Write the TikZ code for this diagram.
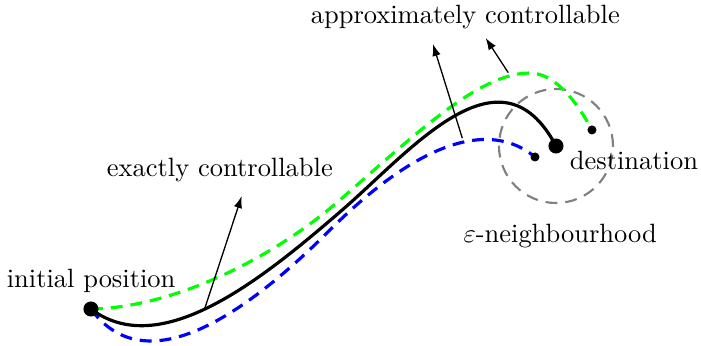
\documentclass[tikz,border=0pt]{standalone}
\usepackage{amsmath,amssymb}
\usepackage{xcolor}
\usepackage{tikz}
\usetikzlibrary{arrows.meta,calc,positioning}
\definecolor{exactblack}{HTML}{000000}
\definecolor{approxgreen}{HTML}{00FF00}
\definecolor{approxblue}{HTML}{0000FF}
\definecolor{ballgray}{HTML}{808080}
\tikzset{
  exactpath/.style={exactblack,line width=1.2pt},
  greenpath/.style={approxgreen,line width=1.2pt,dash pattern=on 4.5pt off 3pt},
  bluepath/.style={approxblue,line width=1.2pt,dash pattern=on 4.5pt off 3pt},
  epsball/.style={ballgray,line width=0.8pt,dash pattern=on 4.5pt off 3pt},
  pointer/.style={-{Latex[length=4.5pt,width=3.2pt]},line width=0.5pt},
  bigdot/.style={circle,fill=black,minimum size=0.2cm,inner sep=0pt},
  smalldot/.style={circle,fill=black,minimum size=0.12cm,inner sep=0pt},
  tag/.style={inner sep=1pt}
}

\begin{document}
\begin{tikzpicture}
\useasboundingbox (0,0) rectangle (9.31,4.595);
% end points
\coordinate (startpt) at (1.208,0.491);
\coordinate (destpt) at (7.384,2.656);
\coordinate (greenend) at (7.862,2.869);
\coordinate (blueend) at (7.105,2.510);
% epsilon ball round the destination
\draw[epsball] (destpt) circle (0.757);
% the three trajectories
\draw[greenpath] (startpt) .. controls (2.258,0.505) and (3.586,1.129) .. (4.515,1.939)
  .. controls (5.578,2.869) and (6.375,3.625) .. (7.039,3.625)
  .. controls (7.371,3.625) and (7.663,3.240) .. (greenend);
\draw[bluepath] (startpt) .. controls (1.992,-0.584) and (3.453,0.611) .. (4.382,1.540)
  .. controls (5.312,2.470) and (6.375,3.108) .. (blueend);
\draw[exactpath] (startpt) .. controls (2.125,-0.200) and (3.453,0.863) .. (4.515,1.780)
  .. controls (5.445,2.576) and (6.640,4.064) .. (destpt);
% dots
\node[bigdot] (start) at (startpt) {};
\node[bigdot] (dest) at (destpt) {};
\node[smalldot] (greendot) at (greenend) {};
\node[smalldot] (bluedot) at (blueend) {};
% labels
\node[tag] (startlabel) at (1.21,0.86) {initial position};
\node[tag] (destlabel) at (8.42,2.47) {destination};
\node[tag] (balllabel) at (7.44,1.46) {$\varepsilon$-neighbourhood};
\node[tag] (exactlabel) at (2.92,2.34) {exactly controllable};
\node[tag] (approxlabel) at (6.18,4.37) {approximately controllable};
% pointers
\coordinate (exfoot) at (2.72,0.50);
\coordinate (extip) at (3.21,1.99);
\coordinate (bluefoot) at (6.14,2.76);
\coordinate (bluetip) at (5.75,4.01);
\coordinate (greenfoot) at (6.75,3.63);
\coordinate (greentip) at (6.45,4.09);
\draw[pointer] (exfoot) -- (extip);
\draw[pointer] (bluefoot) -- (bluetip);
\draw[pointer] (greenfoot) -- (greentip);
\end{tikzpicture}
\end{document}
